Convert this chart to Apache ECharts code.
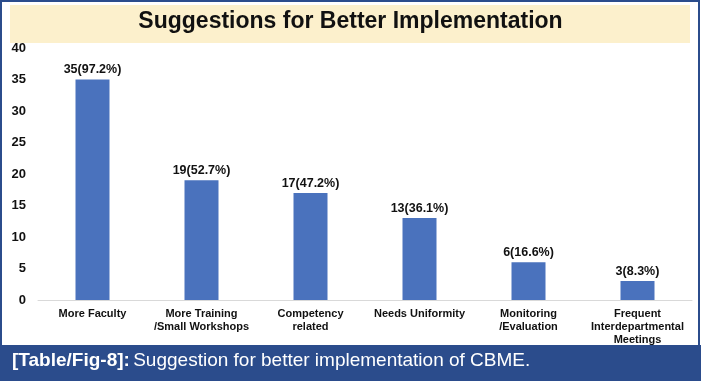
<!DOCTYPE html>
<html><head><meta charset="utf-8">
<script src="https://cdn.jsdelivr.net/npm/echarts@6/dist/echarts.min.js"></script>
<style>html,body{margin:0;padding:0;background:#fff}#c{width:701px;height:381px}</style>
</head><body><div id="c"></div>
<script>
var categories = ['More Faculty', 'More Training\n/Small Workshops', 'Competency\nrelated', 'Needs Uniformity', 'Monitoring\n/Evaluation', 'Frequent\nInterdepartmental\nMeetings'];
var values = [35, 19, 17, 13, 6, 3];
var percents = ['97.2%', '52.7%', '47.2%', '36.1%', '16.6%', '8.3%'];
var yTicks = [0, 5, 10, 15, 20, 25, 30, 35, 40];

var chart = echarts.init(document.getElementById('c'), null, {renderer: 'canvas'});
chart.setOption({
  animation: false,
  backgroundColor: '#ffffff',
  graphic: [
    {type: 'rect', shape: {x: 1, y: 1, width: 698, height: 379}, style: {fill: 'none', stroke: '#2b4c8c', lineWidth: 2}, z: 0},
    {type: 'rect', shape: {x: 10, y: 5, width: 680, height: 38}, style: {fill: '#fcf0cc'}, z: 0},
    {type: 'text', left: 'center', top: 10, style: {text: 'Suggestions for Better Implementation', font: 'bold 23px "Liberation Sans", Arial, sans-serif', fill: '#111'}, z: 5},
    {type: 'rect', shape: {x: 0, y: 345, width: 701, height: 36}, style: {fill: '#2b4c8c'}, z: 0},
    {type: 'text', left: 12, top: 351, style: {rich: {b: {font: 'bold 19px "Liberation Sans Narrow", "Liberation Sans", Arial, sans-serif', fill: '#fff'}, n: {font: '19px "Liberation Sans Narrow", "Liberation Sans", Arial, sans-serif', fill: '#fff'}}, text: '{b|[Table/Fig-8]:} {n|Suggestion for better implementation of CBME.}'}, z: 5}
  ],
  grid: {left: 38, right: 9, top: 48, bottom: 81},
  xAxis: {
    type: 'category', data: categories,
    axisLine: {lineStyle: {color: '#d9d9d9'}},
    axisTick: {show: false},
    axisLabel: {interval: 0, color: '#111', fontWeight: 'bold', fontSize: 11, lineHeight: 13, margin: 7, fontFamily: '"Liberation Sans", Arial, sans-serif'}
  },
  yAxis: {
    type: 'value', min: 0, max: 40, interval: 5,
    axisLine: {show: false}, axisTick: {show: false}, splitLine: {show: false},
    axisLabel: {color: '#111', fontWeight: 'bold', fontSize: 13, margin: 12, fontFamily: '"Liberation Sans", Arial, sans-serif'}
  },
  series: [{
    type: 'bar', data: values, barWidth: 34,
    itemStyle: {color: '#4a72bd'},
    label: {show: true, position: 'top', distance: 3, color: '#111', fontWeight: 'bold', fontSize: 12.5, fontFamily: '"Liberation Sans", Arial, sans-serif',
      formatter: function (p) { return p.value + '(' + percents[p.dataIndex] + ')'; }}
  }]
});
</script></body></html>
